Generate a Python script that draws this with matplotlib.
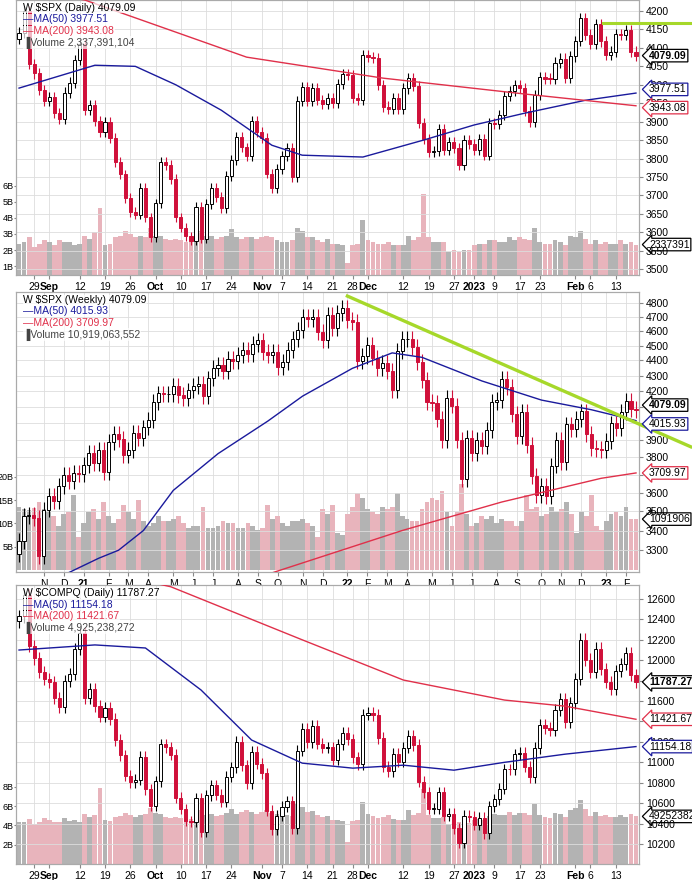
import matplotlib
matplotlib.use("Agg")
import matplotlib.pyplot as plt
import matplotlib.transforms as mtransforms
import numpy as np
import pandas as pd

# ---------------- DATA ----------------
daily_holidays = ["2022-09-05", "2022-11-24", "2022-12-26", "2023-01-02", "2023-01-16"]
spx_close = [4141, 4199, 4057, 4031, 3986, 3955,
             3966, 3924, 3908, 3979, 4006, 4067, 4110, 3932, 3946, 3901, 3873, 3900, 3856, 3790, 3757, 3693, 3655, 3648, 3720, 3640, 3586,
             3678, 3791, 3783, 3744, 3640, 3612, 3589, 3577, 3669, 3583, 3677, 3720, 3695, 3666, 3752, 3797, 3859, 3830, 3807, 3901, 3872,
             3856, 3759, 3720, 3771, 3807, 3828, 3749, 3956, 3993, 3957, 3992, 3959, 3947, 3965, 3950, 4003, 4028, 4026, 3964, 3958, 4080,
             4076, 4072, 3999, 3941, 3934, 3963, 3934, 3990, 4019, 3996, 3896, 3852, 3818, 3821, 3879, 3822, 3845, 3829, 3783, 3849, 3840,
             3824, 3853, 3808, 3895, 3893, 3919, 3970, 3983, 3999, 3991, 3928, 3899, 3973, 4020, 4017, 4016, 4060, 4071, 4018, 4077,
             4119, 4180, 4136, 4111, 4164, 4118, 4082, 4090, 4137, 4136, 4148, 4090, 4079.09]
spx_open0 = 4125
spx_vol = [2.4, 2.5, 2.8, 2.2, 2.4, 2.6,
           2.5, 2.3, 2.6, 2.5, 2.5, 2.3, 2.4, 2.9, 2.7, 3.1, 4.6, 2.3, 2.4, 2.8, 2.9, 3.2, 3.0, 2.8, 2.9, 2.8, 3.4,
           2.9, 2.9, 2.7, 2.6, 2.7, 2.6, 2.5, 2.5, 2.5, 3.2, 2.9, 2.9, 2.7, 2.8, 2.9, 3.3, 2.8, 2.7, 2.8, 2.8, 2.7,
           2.8, 2.9, 2.8, 2.6, 2.5, 2.5, 2.6, 3.4, 3.2, 2.8, 2.8, 2.6, 2.5, 2.7, 2.4, 2.4, 2.3, 1.2, 2.3, 2.4, 3.9,
           2.6, 2.5, 2.4, 2.4, 2.5, 2.3, 2.3, 2.3, 2.9, 2.6, 2.8, 5.5, 2.8, 2.5, 2.5, 2.5, 1.9, 2.0, 1.9, 2.0, 2.0,
           2.3, 2.4, 2.4, 2.6, 2.6, 2.5, 2.5, 2.8, 2.6, 2.8, 2.7, 2.6, 3.4, 2.5, 2.4, 2.4, 2.6, 2.5, 2.3, 2.9,
           2.8, 3.2, 2.7, 2.4, 2.6, 2.4, 2.5, 2.4, 2.4, 2.6, 2.4, 2.5, 2.34]
spx_ma50_idx = [0, 15, 23, 31, 40, 50, 56, 68, 80, 90, 100, 112, 122]
spx_ma50 = [3991, 4053, 4050, 4000, 3931, 3836, 3809, 3804, 3850, 3891, 3923, 3958, 3977.51]
spx_ma200_idx = [0, 13, 45, 72, 100, 122]
spx_ma200 = [4262, 4230, 4075, 4018, 3975, 3943.08]

ndq_close = [12431, 12639, 12142, 12018, 11884, 11816,
             11785, 11631, 11545, 11792, 11862, 12112, 12266, 11634, 11720, 11552, 11448, 11535, 11425, 11220, 11067, 10868, 10803, 10829, 11052, 10738, 10576,
             10816, 11176, 11148, 11074, 10652, 10543, 10426, 10418, 10649, 10321, 10676, 10773, 10681, 10615, 10860, 10953, 11199, 10971, 10793, 11103, 10988,
             10891, 10525, 10343, 10476, 10565, 10617, 10354, 11114, 11324, 11197, 11359, 11184, 11145, 11146, 11025, 11175, 11286, 11226, 11050, 10984, 11468,
             11482, 11462, 11240, 10959, 10914, 11082, 11005, 11144, 11256, 11171, 10811, 10705, 10546, 10547, 10709, 10477, 10497, 10353, 10214, 10479, 10466,
             10386, 10459, 10305, 10569, 10636, 10743, 10932, 10931, 11079, 11095, 10958, 10852, 11140, 11365, 11334, 11313, 11512, 11622, 11394, 11585,
             11816, 12201, 12007, 11888, 12114, 11911, 11790, 11718, 11892, 11960, 12070, 11855, 11787.27]
ndq_open0 = 12380
ndq_vol = [4.3, 4.4, 4.7, 4.1, 4.4, 4.8,
           4.6, 4.3, 4.4, 4.8, 4.5, 4.6, 4.4, 5.2, 4.9, 5.1, 7.9, 4.6, 4.5, 4.9, 5.0, 5.3, 5.1, 4.9, 5.1, 5.2, 5.8,
           5.3, 5.2, 4.9, 4.8, 4.9, 4.8, 4.7, 4.7, 4.8, 5.6, 5.1, 5.2, 5.0, 5.1, 5.3, 5.7, 5.2, 5.4, 5.6, 5.4, 5.2,
           5.4, 5.6, 5.3, 5.2, 5.0, 5.1, 5.0, 6.2, 5.9, 5.4, 5.5, 5.1, 4.9, 5.0, 4.6, 4.6, 4.5, 2.3, 4.5, 4.6, 6.4,
           5.2, 5.0, 4.8, 4.9, 5.1, 4.7, 4.6, 4.6, 5.6, 5.1, 5.3, 7.8, 5.1, 4.8, 4.8, 4.9, 4.1, 4.2, 4.3, 4.4, 4.2,
           4.6, 4.7, 4.6, 5.0, 5.2, 5.1, 5.1, 5.4, 5.1, 5.3, 5.3, 5.1, 6.2, 5.1, 4.9, 4.8, 5.3, 5.2, 4.9, 5.6,
           5.8, 6.6, 5.7, 5.0, 5.4, 5.0, 5.1, 4.9, 4.9, 5.1, 4.9, 5.2, 4.93]
ndq_ma50_idx = [0, 15, 25, 36, 46, 56, 66, 76, 86, 96, 108, 122]
ndq_ma50 = [12100, 12150, 12120, 11708, 11218, 10992, 10943, 10972, 10923, 11000, 11080, 11154.18]
ndq_ma200_idx = [0, 30, 56, 76, 96, 108, 122]
ndq_ma200 = [13050, 12720, 12200, 11806, 11610, 11550, 11421.67]

weekly_close = [3348, 3477, 3483, 3465, 3270, 3510, 3585, 3558, 3638, 3699, 3663, 3709, 3703,
                3756, 3825, 3768, 3841, 3714, 3887, 3934, 3907, 3811, 3842, 3943, 3913, 3975, 4020, 4129, 4185, 4180, 4181,
                4233, 4174, 4156, 4204, 4230, 4247, 4166, 4281, 4352, 4370, 4327, 4412, 4395, 4437, 4468, 4442, 4509, 4535,
                4459, 4433, 4455, 4357, 4391, 4471, 4545, 4605, 4697, 4683, 4698, 4595, 4538, 4712, 4621, 4726, 4766,
                4677, 4662, 4398, 4432, 4501, 4419, 4349, 4385, 4329, 4204, 4463, 4543, 4546, 4488, 4392, 4272, 4132, 4123,
                4024, 3901, 4158, 4109, 3901, 3675, 3912, 3825, 3899, 3863, 3962, 4130, 4145, 4280, 4228, 4058, 3924, 4067,
                3873, 3693, 3586, 3640, 3583, 3752, 3901, 3771, 3993, 3965, 4026, 4072, 3934, 3852, 3845, 3840,
                3895, 3999, 3973, 4071, 4136, 4090, 4079.09]
weekly_open0 = 3280
weekly_vol = [13.5, 13.0, 12.8, 13.2, 14.5, 13.0, 12.5, 11.5, 9.5, 12.0, 12.5, 16.0, 7.0,
              10.0, 12.5, 13.0, 11.0, 14.5, 11.5, 10.0, 11.0, 14.0, 12.5, 11.0, 15.0, 10.5, 9.5, 10.0, 11.5, 10.5, 10.5,
              11.0, 11.5, 10.0, 9.0, 9.5, 9.5, 13.5, 9.0, 9.0, 9.5, 10.5, 10.0, 10.0, 9.0, 9.0, 10.0, 9.5, 8.5, 9.0,
              14.0, 11.0, 11.5, 10.0, 9.5, 10.5, 10.5, 11.0, 10.0, 9.5, 7.0, 13.0, 12.0, 14.0, 8.0, 7.5,
              12.0, 13.5, 16.5, 15.5, 13.0, 12.5, 12.0, 13.5, 13.0, 13.5, 16.5, 11.5, 11.0, 10.5, 10.5, 13.0, 14.5, 15.5,
              15.0, 17.0, 12.5, 9.5, 12.5, 18.5, 12.0, 9.5, 10.0, 11.5, 11.0, 11.5, 10.0, 11.0, 10.5, 10.5, 9.5, 10.5,
              16.0, 13.0, 13.5, 11.5, 12.0, 13.5, 12.5, 13.0, 14.5, 12.0, 8.0, 12.5, 11.5, 16.0, 9.5, 8.5,
              10.5, 12.0, 12.5, 11.5, 13.5, 11.0, 10.92]
weekly_ma50_idx = [10, 16, 20, 25, 31, 40, 50, 57, 67, 75, 81, 93, 105, 115, 124]
weekly_ma50 = [3190, 3260, 3300, 3400, 3613, 3820, 4013, 4168, 4347, 4450, 4420, 4265, 4143, 4083, 4015.93]
weekly_ma200_idx = [51, 77, 97, 117, 124]
weekly_ma200 = [3190, 3400, 3550, 3680, 3709.97]
weekly_trend = [("2022-01-07", 4850), ("2023-05-05", 3860)]
daily_trend_level = 4168

daily_ticks = [("2022-08-29", "29"), ("2022-09-01", "Sep"), ("2022-09-12", "12"), ("2022-09-19", "19"),
               ("2022-09-26", "26"), ("2022-10-03", "Oct"), ("2022-10-10", "10"), ("2022-10-17", "17"),
               ("2022-10-24", "24"), ("2022-11-01", "Nov"), ("2022-11-07", "7"), ("2022-11-14", "14"),
               ("2022-11-21", "21"), ("2022-11-28", "28"), ("2022-12-01", "Dec"), ("2022-12-12", "12"),
               ("2022-12-19", "19"), ("2022-12-27", "27"), ("2023-01-03", "2023"), ("2023-01-09", "9"),
               ("2023-01-17", "17"), ("2023-01-23", "23"), ("2023-02-01", "Feb"), ("2023-02-06", "6"),
               ("2023-02-13", "13")]

# ---------------- HELPERS ----------------
UP_EDGE = "black"
DOWN = "#d0103a"
VOL_UP = "#b3b3b3"
VOL_DN = "#e8b4bc"
GRID = "#dddddd"
LIME = "#a6d82a"
NAVY = "#1a1a9c"
RED = "#e0304a"
FS = 7.5

plt.rcParams["font.family"] = "Liberation Sans"
ddates = pd.bdate_range("2022-08-24", "2023-02-17")
ddates = ddates[~ddates.isin(pd.to_datetime(daily_holidays))]
wdates = pd.date_range("2020-10-02", "2023-02-17", freq="W-FRI")

W, H = 692, 880
fig = plt.figure(figsize=(W / 100, H / 100), dpi=100)
L, R = 16, 639


def make_axes(top, bottom):
    rect = [L / W, 1 - bottom / H, (R - L) / W, (bottom - top) / H]
    vax = fig.add_axes(rect)
    ax = fig.add_axes(rect, sharex=vax)
    ax.patch.set_alpha(0)
    return ax, vax


def candles(ax, vax, close, open0, vol, wick_frac, width=0.62):
    close = np.array(close, float)
    opens = np.concatenate([[open0], close[:-1]])
    x = np.arange(len(close))
    for i in x:
        o, c = opens[i], close[i]
        up = c >= o
        hi = max(o, c) * (1 + wick_frac)
        lo = min(o, c) * (1 - wick_frac)
        col = UP_EDGE if up else DOWN
        ax.vlines(i, lo, hi, color=col, lw=0.8, zorder=3)
        bh = max(abs(c - o), (hi - lo) * 0.04)
        ax.add_patch(plt.Rectangle((i - width / 2, min(o, c)), width, bh,
                                   facecolor="white" if up else DOWN, edgecolor=col, lw=0.7, zorder=4))
        vax.bar(i, vol[i], width=0.95, color=VOL_UP if up else VOL_DN, edgecolor="none", zorder=1)
    ax.set_xlim(-0.6, len(close) - 0.4)


def style(ax, vax, yticks, vticks, vlabels, ylim, vlim, log=False):
    if log:
        ax.set_yscale("log")
    ax.set_ylim(*ylim)
    ax.yaxis.tick_right()
    ax.set_yticks(yticks)
    ax.set_yticklabels([str(t) for t in yticks], fontsize=FS)
    ax.yaxis.set_minor_locator(matplotlib.ticker.NullLocator())
    ax.tick_params(axis="y", length=3, pad=2, color="#888888")
    vax.set_ylim(*vlim)
    vax.set_yticks(vticks)
    vax.set_yticklabels(vlabels, fontsize=6.5)
    vax.tick_params(axis="y", length=1.5, pad=0.3, color="#888888")
    for a in (ax, vax):
        for s in a.spines.values():
            s.set_color("#aaaaaa")
            s.set_linewidth(0.8)
    ax.grid(axis="y", color=GRID, lw=0.6)
    ax.set_axisbelow(True)


def xlabels(ax, vax, pos, labels, bold):
    vax.set_xticks(pos)
    vax.set_xticklabels(labels, fontsize=FS)
    for t, b in zip(vax.get_xticklabels(), bold):
        if b:
            t.set_fontweight("bold")
    vax.tick_params(axis="x", length=3, pad=2, color="#888888")
    ax.tick_params(axis="x", labelbottom=False, length=0)
    for p in pos:
        vax.axvline(p, color=GRID, lw=0.6, zorder=0)


def value_box(ax, y, text, ec, bold=False):
    tr = mtransforms.blended_transform_factory(ax.transAxes, ax.transData)
    ax.text(1.016, y, text, transform=tr, fontsize=FS, va="center", ha="left",
            fontweight="bold" if bold else "normal", color="black", zorder=10,
            bbox=dict(boxstyle="larrow,pad=0.12", fc="white", ec=ec, lw=0.9), clip_on=False)


def legend(ax, lines):
    for k, (txt, col) in enumerate(lines):
        ax.text(0.012, 1 - (8 + 11.5 * k) / ax.bbox.height, txt, transform=ax.transAxes,
                fontsize=FS, color=col, va="center", ha="left", zorder=11,
                bbox=dict(fc="white", ec="none", pad=0.3, alpha=0.7))


bold_words = {"Sep", "Oct", "Nov", "Dec", "Feb", "2023"}
dpos = [int(ddates.get_loc(pd.Timestamp(d))) for d, _ in daily_ticks]
dlab = [l for _, l in daily_ticks]
dbold = [l in bold_words for l in dlab]

# ---------------- PANEL 1 ----------------
ax1, v1 = make_axes(0, 275)
candles(ax1, v1, spx_close, spx_open0, spx_vol, 0.0035)
ax1.plot(spx_ma50_idx, spx_ma50, color=NAVY, lw=1.0, zorder=5)
ax1.plot(spx_ma200_idx, spx_ma200, color=RED, lw=1.0, zorder=5)
ax1.plot([len(spx_close) - 7.5, len(spx_close) + 10], [daily_trend_level] * 2, color=LIME, lw=2.2,
         zorder=6, clip_on=False)
style(ax1, v1, list(range(3500, 4201, 50)), [1, 2, 3, 4, 5, 6], ["1B", "2B", "3B", "4B", "5B", "6B"],
      (3484, 4230), (0.44, 17.6))
xlabels(ax1, v1, dpos, dlab, dbold)
value_box(ax1, 4079.09, "4079.09", "black", bold=True)
value_box(ax1, 3977.51 + 10, "3977.51", NAVY)
value_box(ax1, 3943.08 - 5, "3943.08", RED)
tr = mtransforms.blended_transform_factory(v1.transAxes, v1.transData)
v1.text(1.016, 2.34, "2337391", transform=tr, fontsize=FS, va="center", ha="left", zorder=10,
        bbox=dict(boxstyle="larrow,pad=0.12", fc="white", ec="black", lw=0.9), clip_on=False)
legend(ax1, [("W $SPX (Daily) 4079.09", "black"), ("\u2014MA(50) 3977.51", NAVY),
             ("\u2014MA(200) 3943.08", RED), ("\u2590Volume 2,337,391,104", "#444444")])

# ---------------- PANEL 2 ----------------
ax2, v2 = make_axes(292, 572)
candles(ax2, v2, weekly_close, weekly_open0, weekly_vol, 0.012)
ax2.plot(weekly_ma50_idx, weekly_ma50, color=NAVY, lw=1.0, zorder=5)
ax2.plot(weekly_ma200_idx, weekly_ma200, color=RED, lw=1.0, zorder=5)
tx = [(pd.Timestamp(d) - wdates[0]).days / 7 for d, _ in weekly_trend]
ty = [v for _, v in weekly_trend]
ax2.plot(tx, ty, color=LIME, lw=2.4, zorder=6, clip_on=False)
style(ax2, v2, list(range(3300, 4801, 100)), [5, 10, 15, 20], ["5B", "10B", "15B", "20B"],
      (3193, 4880), (-0.4, 59.5), log=True)
ax2.set_yticklabels([str(t) for t in range(3300, 4801, 100)], fontsize=FS)
wpos, wlab, wbold = [], [], []
initials = "JFMAMJJASOND"
for i in range(1, len(wdates)):
    if wdates[i].month != wdates[i - 1].month:
        m = wdates[i].month
        wpos.append(i)
        if m == 1:
            wlab.append(str(wdates[i].year)[2:])
            wbold.append(True)
        else:
            wlab.append(initials[m - 1])
            wbold.append(False)
xlabels(ax2, v2, wpos, wlab, wbold)
value_box(ax2, 4079.09 * 1.008, "4079.09", "black", bold=True)
value_box(ax2, 4015.93 * 0.995, "4015.93", NAVY)
value_box(ax2, 3709.97, "3709.97", RED)
tr = mtransforms.blended_transform_factory(v2.transAxes, v2.transData)
v2.text(1.016, 10.92, "1091906", transform=tr, fontsize=FS, va="center", ha="left", zorder=10,
        bbox=dict(boxstyle="larrow,pad=0.12", fc="white", ec="black", lw=0.9), clip_on=False)
legend(ax2, [("W $SPX (Weekly) 4079.09", "black"), ("\u2014MA(50) 4015.93", NAVY),
             ("\u2014MA(200) 3709.97", RED), ("\u2590Volume 10,919,063,552", "#444444")])

# ---------------- PANEL 3 ----------------
ax3, v3 = make_axes(585, 864)
candles(ax3, v3, ndq_close, ndq_open0, ndq_vol, 0.005)
ax3.plot(ndq_ma50_idx, ndq_ma50, color=NAVY, lw=1.0, zorder=5)
ax3.plot(ndq_ma200_idx, ndq_ma200, color=RED, lw=1.0, zorder=5)
style(ax3, v3, list(range(10200, 12601, 200)), [2, 4, 6, 8], ["2B", "4B", "6B", "8B"],
      (10004, 12737), (0, 28.9))
xlabels(ax3, v3, dpos, dlab, dbold)
value_box(ax3, 11787.27, "11787.27", "black", bold=True)
value_box(ax3, 11421.67, "11421.67", RED)
value_box(ax3, 11154.18, "11154.18", NAVY)
tr = mtransforms.blended_transform_factory(v3.transAxes, v3.transData)
v3.text(1.016, 4.93, "49252382", transform=tr, fontsize=FS, va="center", ha="left", zorder=10,
        bbox=dict(boxstyle="larrow,pad=0.12", fc="white", ec="black", lw=0.9), clip_on=False)
legend(ax3, [("W $COMPQ (Daily) 11787.27", "black"), ("\u2014MA(50) 11154.18", NAVY),
             ("\u2014MA(200) 11421.67", RED), ("\u2590Volume 4,925,238,272", "#444444")])

fig.savefig("out.png", dpi=100)
